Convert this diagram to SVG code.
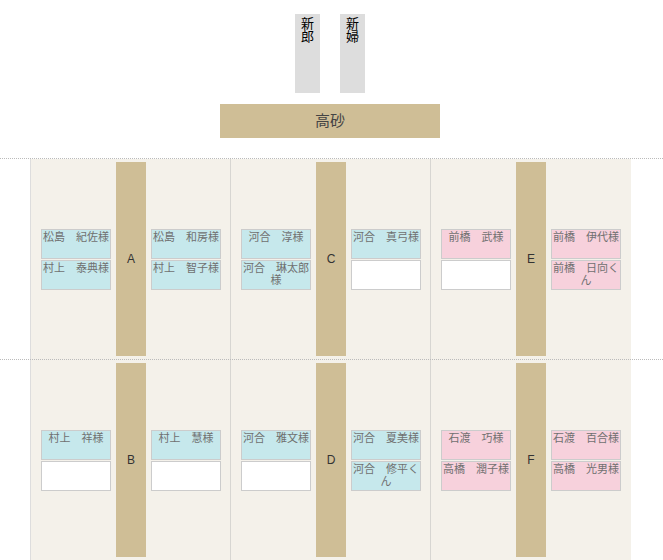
<svg xmlns="http://www.w3.org/2000/svg" width="663" height="560" viewBox="0 0 663 560">
<style>
text{font-family:"Noto Sans CJK JP","Noto Sans",sans-serif;}
.couple{fill:#dddddd;}
.cpt{font-size:13px;fill:#000;writing-mode:vertical-rl;}
.bar{fill:#cfbe96;}
.tl{font-size:12px;fill:#333;text-anchor:middle;font-family:"Liberation Sans",sans-serif;}
.seat{stroke:#cccccc;stroke-width:1;}
.b{fill:#c6e8ec;}
.p{fill:#f7d1dc;}
.w{fill:#ffffff;}
.st{font-size:11px;fill:#707070;text-anchor:middle;}
.dot{stroke:#bbbbbb;stroke-width:1;stroke-dasharray:1 1;fill:none;}
</style>
<rect x="31" y="159" width="600" height="401" fill="#f4f1ea"/>
<g id="grid">
<line class="dot" x1="0" y1="158.5" x2="663" y2="158.5"/>
<line class="dot" x1="0" y1="359.5" x2="663" y2="359.5"/>
<line class="dot" x1="30.5" y1="158.5" x2="30.5" y2="560"/>
<line class="dot" x1="230.5" y1="158.5" x2="230.5" y2="560"/>
<line class="dot" x1="430.5" y1="158.5" x2="430.5" y2="560"/>
</g>
<g id="groom"><rect class="couple" x="295" y="14" width="25" height="79"/><text class="cpt" x="307.5" y="17">新郎</text></g>
<g id="bride"><rect class="couple" x="340" y="14" width="25" height="79"/><text class="cpt" x="352.5" y="17">新婦</text></g>
<g id="takasago"><rect class="bar" x="220" y="104" width="220" height="34"/><text x="330" y="126" style="font-size:15px;fill:#444;text-anchor:middle">高砂</text></g>

<g id="tableA">
<rect class="bar" x="116" y="162" width="30" height="194"/><text class="tl" x="131" y="263">A</text>
<rect class="seat b" x="41.5" y="229.5" width="69" height="29"/><text class="st" x="76" y="241">松島　紀佐様</text>
<rect class="seat b" x="41.5" y="260.5" width="69" height="29"/><text class="st" x="76" y="272">村上　泰典様</text>
<rect class="seat b" x="151.5" y="229.5" width="69" height="29"/><text class="st" x="186" y="241">松島　和房様</text>
<rect class="seat b" x="151.5" y="260.5" width="69" height="29"/><text class="st" x="186" y="272">村上　智子様</text>
</g>
<g id="tableC">
<rect class="bar" x="316" y="162" width="30" height="194"/><text class="tl" x="331" y="263">C</text>
<rect class="seat b" x="241.5" y="229.5" width="69" height="29"/><text class="st" x="276" y="241">河合　淳様</text>
<rect class="seat b" x="241.5" y="260.5" width="69" height="29"/><text class="st" x="276" y="272">河合　琳太郎<tspan x="276" dy="12">様</tspan></text>
<rect class="seat b" x="351.5" y="229.5" width="69" height="29"/><text class="st" x="386" y="241">河合　真弓様</text>
<rect class="seat w" x="351.5" y="260.5" width="69" height="29"/>
</g>
<g id="tableE">
<rect class="bar" x="516" y="162" width="30" height="194"/><text class="tl" x="531" y="263">E</text>
<rect class="seat p" x="441.5" y="229.5" width="69" height="29"/><text class="st" x="476" y="241">前橋　武様</text>
<rect class="seat w" x="441.5" y="260.5" width="69" height="29"/>
<rect class="seat p" x="551.5" y="229.5" width="69" height="29"/><text class="st" x="586" y="241">前橋　伊代様</text>
<rect class="seat p" x="551.5" y="260.5" width="69" height="29"/><text class="st" x="586" y="272">前橋　日向く<tspan x="586" dy="12">ん</tspan></text>
</g>
<g id="tableB">
<rect class="bar" x="116" y="363" width="30" height="194"/><text class="tl" x="131" y="464">B</text>
<rect class="seat b" x="41.5" y="430.5" width="69" height="29"/><text class="st" x="76" y="442">村上　祥様</text>
<rect class="seat w" x="41.5" y="461.5" width="69" height="29"/>
<rect class="seat b" x="151.5" y="430.5" width="69" height="29"/><text class="st" x="186" y="442">村上　慧様</text>
<rect class="seat w" x="151.5" y="461.5" width="69" height="29"/>
</g>
<g id="tableD">
<rect class="bar" x="316" y="363" width="30" height="194"/><text class="tl" x="331" y="464">D</text>
<rect class="seat b" x="241.5" y="430.5" width="69" height="29"/><text class="st" x="276" y="442">河合　雅文様</text>
<rect class="seat w" x="241.5" y="461.5" width="69" height="29"/>
<rect class="seat b" x="351.5" y="430.5" width="69" height="29"/><text class="st" x="386" y="442">河合　夏美様</text>
<rect class="seat b" x="351.5" y="461.5" width="69" height="29"/><text class="st" x="386" y="473">河合　修平く<tspan x="386" dy="12">ん</tspan></text>
</g>
<g id="tableF">
<rect class="bar" x="516" y="363" width="30" height="194"/><text class="tl" x="531" y="464">F</text>
<rect class="seat p" x="441.5" y="430.5" width="69" height="29"/><text class="st" x="476" y="442">石渡　巧様</text>
<rect class="seat p" x="441.5" y="461.5" width="69" height="29"/><text class="st" x="476" y="473">高橋　潤子様</text>
<rect class="seat p" x="551.5" y="430.5" width="69" height="29"/><text class="st" x="586" y="442">石渡　百合様</text>
<rect class="seat p" x="551.5" y="461.5" width="69" height="29"/><text class="st" x="586" y="473">高橋　光男様</text>
</g>
</svg>
